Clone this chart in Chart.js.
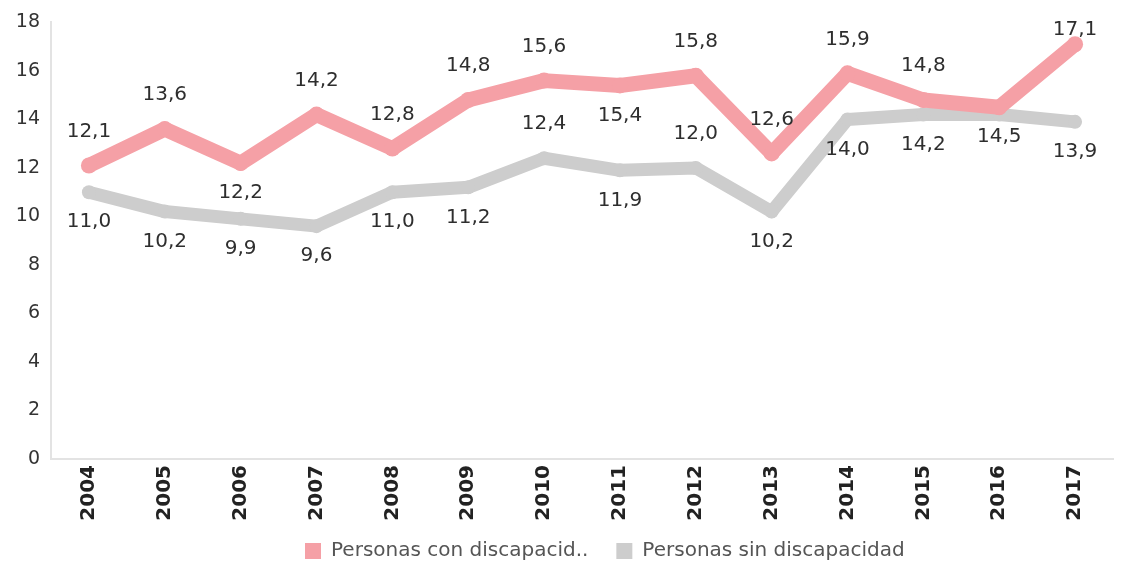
<!DOCTYPE html>
<html>
<head>
<meta charset="utf-8">
<script src="https://cdn.jsdelivr.net/npm/chart.js@4.4.0/dist/chart.umd.min.js"></script>
<style>
  html, body { margin: 0; padding: 0; background: #fff; }
  #wrap { width: 1121px; height: 566px; }
</style>
</head>
<body>
<div id="wrap"><canvas id="canvas_chart" width="1121" height="566"></canvas></div>
<script>
// data
const years = ["2004", "2005", "2006", "2007", "2008", "2009", "2010", "2011", "2012", "2013", "2014", "2015", "2016", "2017"];
const conDiscapacidad = [12.1, 13.6, 12.2, 14.2, 12.8, 14.8, 15.6, 15.4, 15.8, 12.6, 15.9, 14.8, 14.5, 17.1];
const sinDiscapacidad = [11.0, 10.2, 9.9, 9.6, 11.0, 11.2, 12.4, 11.9, 12.0, 10.2, 14.0, 14.2, 14.2, 13.9];
const yTicks = [0, 2, 4, 6, 8, 10, 12, 14, 16, 18];

// where each value label sits: 1 = above the point, -1 = below, 0 = none
const conLabelSide = [1, 1, -1, 1, 1, 1, 1, -1, 1, 1, 1, 1, -1, 1];
const sinLabelSide = [-1, -1, -1, -1, -1, -1, 1, -1, 1, -1, -1, -1, 0, -1];

const fontFam = "'DejaVu Sans', Verdana, sans-serif";
const pink = "#f5a0a6";
const grey = "#cdcdcd";
const legendPad = 28;

// value labels, decimal comma
const valueLabels = {
    id: 'valueLabels',
    afterLayout(chart) {
        // legend sits a bit right of centre, like the original
        const lg = chart.legend;
        lg.left = 305 - legendPad;
        lg.top = 551 - 10 - legendPad;
    },
    afterDatasetsDraw(chart) {
        const ctx = chart.ctx;
        ctx.save();
        ctx.font = "20px " + fontFam;
        ctx.fillStyle = "#2e2e2e";
        ctx.textAlign = "center";
        ctx.textBaseline = "middle";
        chart.data.datasets.forEach((ds, di) => {
            const meta = chart.getDatasetMeta(di);
            const sides = ds.labelSide;
            meta.data.forEach((pt, i) => {
                if (!sides[i]) return;
                const txt = ds.data[i].toFixed(1).replace('.', ',');
                let y = sides[i] > 0 ? pt.y - 34 : pt.y + 30;
                if (y < 30) y = 30;
                let x = Math.min(pt.x, chart.chartArea.right - 36);
                ctx.fillText(txt, x, y);
            });
        });
        ctx.restore();
    }
};

const getCanvas = document.getElementById("canvas_chart");
let configChart = {
    type: 'line',
    data: {
        labels: years,
        datasets: [
            {
                label: "Personas con discapacid..",
                data: conDiscapacidad,
                labelSide: conLabelSide,
                borderColor: pink,
                backgroundColor: pink,
                borderWidth: 15,
                pointRadius: 8,
                pointBorderWidth: 0,
                pointHoverRadius: 8,
                borderJoinStyle: 'round',
                tension: 0
            },
            {
                label: "Personas sin discapacidad",
                data: sinDiscapacidad,
                labelSide: sinLabelSide,
                borderColor: grey,
                backgroundColor: grey,
                borderWidth: 13,
                pointRadius: 7,
                pointBorderWidth: 0,
                pointHoverRadius: 7,
                borderJoinStyle: 'round',
                tension: 0
            }
        ]
    },
    options: {
        responsive: false,
        animation: false,
        layout: { padding: { top: 14, right: 5, left: 0, bottom: 0 } },
        plugins: {
            legend: {
                position: 'bottom',
                align: 'start',
                maxHeight: 44,
                labels: {
                    boxWidth: 16,
                    boxHeight: 16,
                    color: "#555",
                    padding: legendPad,
                    font: { family: fontFam, size: 20 },
                    generateLabels(chart) {
                        return chart.data.datasets.map((ds, i) => ({
                            text: ds.label,
                            fillStyle: ds.borderColor,
                            strokeStyle: ds.borderColor,
                            lineWidth: 0,
                            fontColor: "#555",
                            datasetIndex: i,
                            hidden: false
                        }));
                    }
                }
            },
            tooltip: { enabled: false }
        },
        scales: {
            x: {
                offset: true,
                afterFit(axis) { axis.height = 63; },
                grid: { display: false, drawTicks: false },
                border: { color: "#e3e3e3", width: 2 },
                ticks: {
                    color: "#222",
                    minRotation: 90,
                    maxRotation: 90,
                    padding: 6,
                    font: { family: fontFam, size: 20, weight: 'bold' }
                }
            },
            y: {
                min: 0,
                max: 18,
                afterFit(axis) { axis.width = 51; },
                afterBuildTicks(axis) { axis.ticks = yTicks.map(v => ({ value: v })); },
                grid: { display: false, drawTicks: false },
                border: { color: "#e3e3e3", width: 2 },
                ticks: {
                    color: "#333",
                    padding: 11,
                    font: { family: fontFam, size: 19 }
                }
            }
        }
    },
    plugins: [valueLabels]
};
const canvas_chart = new Chart(getCanvas, configChart);
</script>
</body>
</html>
